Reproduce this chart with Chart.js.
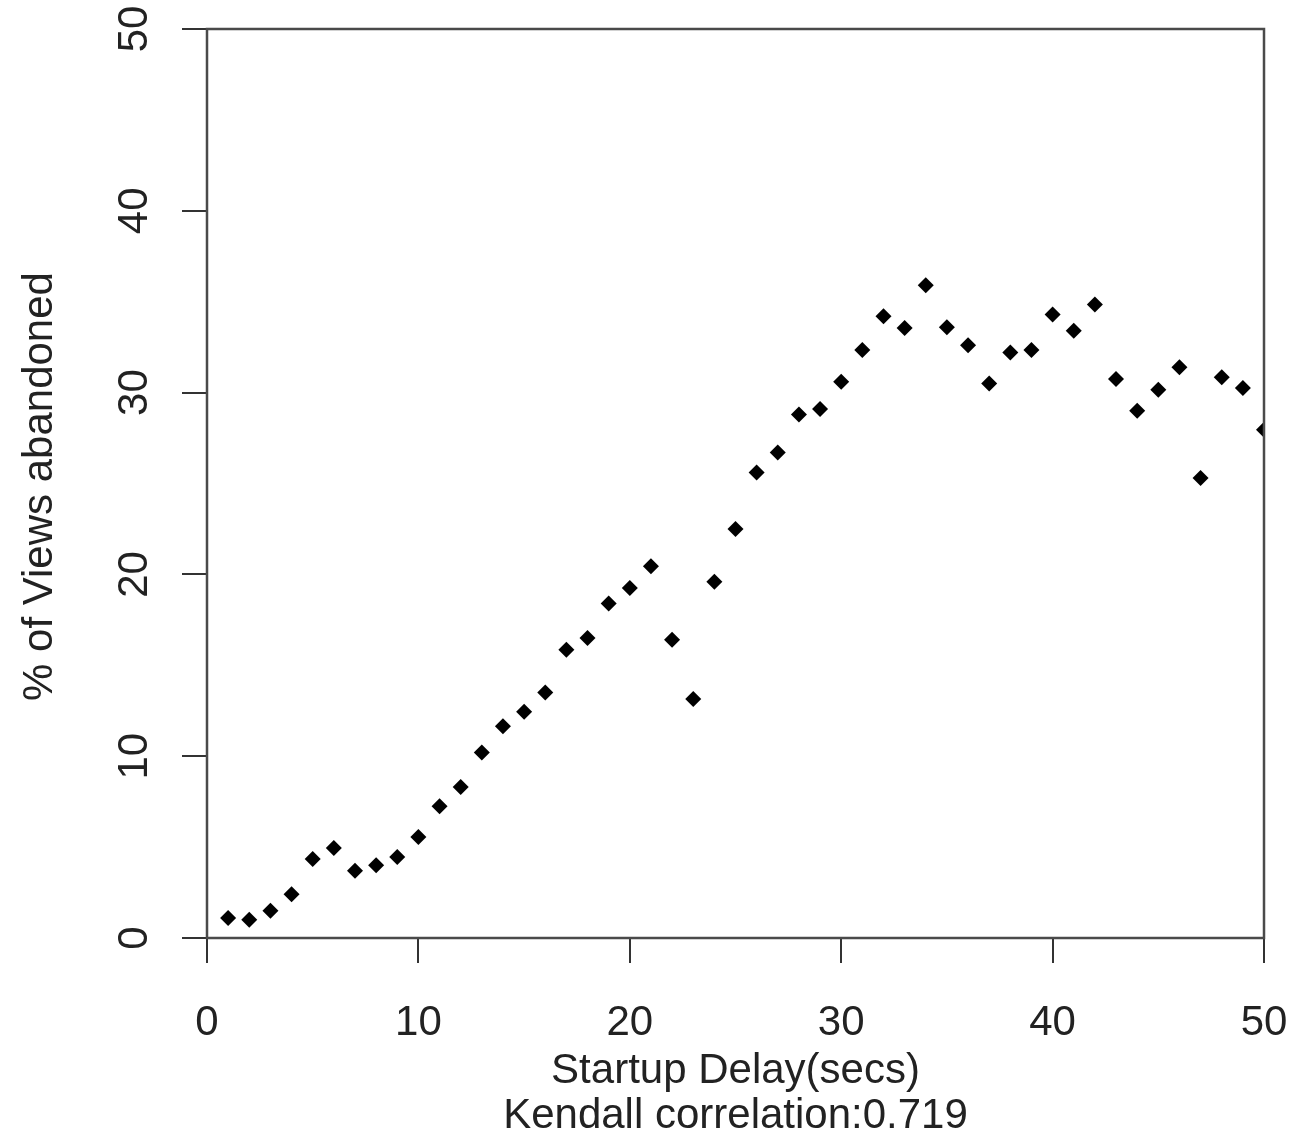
<!DOCTYPE html>
<html>
<head>
<meta charset="utf-8">
<script src="https://cdn.jsdelivr.net/npm/chart.js@4"></script>
<style>
  body { margin: 0; background: #fff; }
  #wrap { width: 1315px; height: 1135px; }
</style>
</head>
<body>
<div id="wrap"><canvas id="abandonChart" width="1315" height="1135"></canvas></div>
<script>
// startup delay in seconds and % of views abandoned
const delaySecs = [1, 2, 3, 4, 5, 6, 7, 8, 9, 10,
    11, 12, 13, 14, 15, 16, 17, 18, 19, 20,
    21, 22, 23, 24, 25, 26, 27, 28, 29, 30,
    31, 32, 33, 34, 35, 36, 37, 38, 39, 40,
    41, 42, 43, 44, 45, 46, 47, 48, 49, 50];
const pctAbandoned = [1.1, 1.0, 1.5, 2.4, 4.35, 4.95, 3.7, 4.0, 4.45, 5.55,
    7.25, 8.3, 10.2, 11.65, 12.45, 13.5, 15.85, 16.5, 18.4, 19.25,
    20.45, 16.4, 13.15, 19.6, 22.5, 25.6, 26.7, 28.8, 29.1, 30.6,
    32.35, 34.2, 33.55, 35.9, 33.6, 32.6, 30.5, 32.2, 32.35, 34.3,
    33.4, 34.85, 30.75, 29.0, 30.15, 31.4, 25.3, 30.85, 30.25, 27.95];
const xTickValues = [0, 10, 20, 30, 40, 50];
const yTickValues = [0, 10, 20, 30, 40, 50];
const xTitle = 'Startup Delay(secs)';
const xSubtitle = 'Kendall correlation:0.719';
const yTitle = '% of Views abandoned';

const FONT = '42px "Liberation Sans", Arial, sans-serif';
const TEXT = '#222';

// R-style frame plus all the text (y labels are rotated like R's las=0)
const rFrame = {
    id: 'rFrame',
    afterDraw(chart) {
        const { ctx, chartArea: a, scales } = chart;
        const xs = scales.x, ys = scales.y;
        ctx.save();
        ctx.strokeStyle = '#4a4a4a';
        ctx.lineWidth = 2.5;
        ctx.strokeRect(a.left, a.top, a.right - a.left, a.bottom - a.top);

        ctx.fillStyle = TEXT;
        ctx.font = FONT;
        ctx.textAlign = 'center';
        ctx.textBaseline = 'alphabetic';
        xTickValues.forEach(v => {
            ctx.fillText(String(v), xs.getPixelForValue(v), a.bottom + 97);
        });
        yTickValues.forEach(v => {
            ctx.save();
            ctx.translate(147, ys.getPixelForValue(v));
            ctx.rotate(-Math.PI / 2);
            ctx.fillText(String(v), 0, 0);
            ctx.restore();
        });

        const midX = (a.left + a.right) / 2;
        ctx.fillText(xTitle, midX, a.bottom + 145);
        ctx.fillText(xSubtitle, midX, a.bottom + 190);

        ctx.save();
        ctx.translate(52, (a.top + a.bottom) / 2 + 3);
        ctx.rotate(-Math.PI / 2);
        ctx.fillText(yTitle, 0, 0);
        ctx.restore();
        ctx.restore();
    }
};

const ctx = document.getElementById('abandonChart').getContext('2d');
new Chart(ctx, {
    type: 'scatter',
    data: {
        datasets: [{
            data: delaySecs.map((d, i) => ({ x: d, y: pctAbandoned[i] })),
            backgroundColor: '#000',
            borderWidth: 0,
            pointStyle: 'rectRot',
            pointRadius: 8,
            clip: 0
        }]
    },
    options: {
        responsive: false,
        animation: false,
        layout: { padding: { top: 29, right: 51, left: 0, bottom: 0 } },
        plugins: { legend: { display: false }, tooltip: { enabled: false } },
        scales: {
            x: {
                type: 'linear',
                min: 0,
                max: 50,
                ticks: { stepSize: 10, display: false },
                grid: { drawOnChartArea: false, drawTicks: true, tickLength: 25, color: '#333', lineWidth: 2 },
                border: { display: false },
                afterFit: s => { s.height = 197; }
            },
            y: {
                type: 'linear',
                min: 0,
                max: 50,
                ticks: { stepSize: 10, display: false },
                grid: { drawOnChartArea: false, drawTicks: true, tickLength: 25, color: '#333', lineWidth: 2 },
                border: { display: false },
                afterFit: s => { s.width = 207; }
            }
        }
    },
    plugins: [rFrame]
});
</script>
</body>
</html>
